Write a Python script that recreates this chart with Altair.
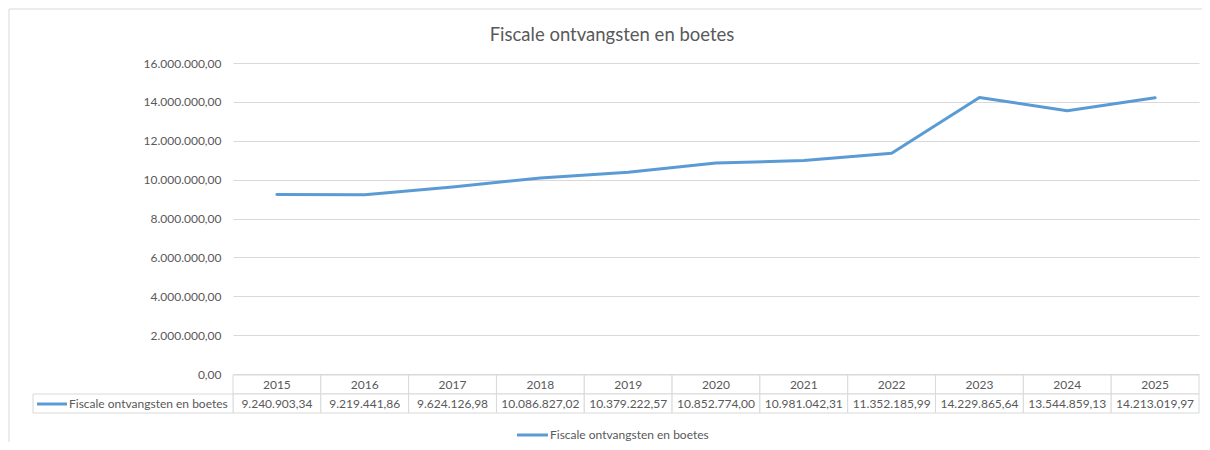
import altair as alt
import pandas as pd

years = ["2015", "2016", "2017", "2018", "2019", "2020", "2021", "2022", "2023", "2024", "2025"]
values = [9240903.34, 9219441.86, 9624126.98, 10086827.02, 10379222.57, 10852774.00,
          10981042.31, 11352185.99, 14229865.64, 13544859.13, 14213019.97]
series_name = "Fiscale ontvangsten en boetes"
chart_title = "Fiscale ontvangsten en boetes"
y_ticks = [0, 2000000, 4000000, 6000000, 8000000, 10000000, 12000000, 14000000, 16000000]

df = pd.DataFrame({"year": years, "value": values, "series": [series_name] * len(years)})
one = pd.DataFrame({"series": [series_name], "title": [chart_title]})

LINE = "#5b9bd5"
GRID = "#d9d9d9"
TXT = "#595959"
FONT = "Lato"
FS = 12

xscale = alt.Scale(type="band", paddingInner=0, paddingOuter=0)
xband = alt.X("year:O", scale=xscale, axis=None, sort=years)
xmid = alt.X("year:O", scale=xscale, axis=None, sort=years, bandPosition=0.5)

base = alt.Chart(df)

frame_left = alt.Chart(one).mark_rule(color=GRID, strokeWidth=1).encode(
    x=alt.value(-224), y=alt.value(-54), y2=alt.value(420)
)
frame_top = alt.Chart(one).mark_rule(color=GRID, strokeWidth=1).encode(
    x=alt.value(-224), x2=alt.value(1000), y=alt.value(-54)
)

line = base.mark_line(color=LINE, strokeWidth=3, strokeJoin="round", strokeCap="round").encode(
    x=xmid,
    y=alt.Y("value:Q", scale=alt.Scale(domain=[0, 16000000], nice=False),
            axis=alt.Axis(values=y_ticks, format=",.2f", title=None, domain=False, ticks=False,
                          labelPadding=12, labelColor=TXT, labelFontSize=FS, labelFont=FONT,
                          grid=True, gridColor=GRID, gridWidth=1)),
)

head_rect = base.mark_rect(fill="white", stroke=GRID, strokeWidth=1).encode(
    x=xband, y=alt.value(312), y2=alt.value(331)
)
head_text = base.mark_text(font=FONT, fontSize=FS, color=TXT, baseline="middle").encode(
    x=xmid, y=alt.value(322), text="year:N"
)
data_rect = base.mark_rect(fill="white", stroke=GRID, strokeWidth=1).encode(
    x=xband, y=alt.value(331), y2=alt.value(350)
)
data_text = base.mark_text(font=FONT, fontSize=FS, color=TXT, baseline="middle").encode(
    x=xmid, y=alt.value(341), text=alt.Text("value:Q", format=",.2f")
)

label_rect = alt.Chart(one).mark_rect(fill="white", stroke=GRID, strokeWidth=1).encode(
    x=alt.value(-200), x2=alt.value(0), y=alt.value(331), y2=alt.value(350)
)
label_line = alt.Chart(one).mark_rule(color=LINE, strokeWidth=3).encode(
    x=alt.value(-196), x2=alt.value(-166), y=alt.value(341)
)
label_text = alt.Chart(one).mark_text(font=FONT, fontSize=FS, color=TXT, align="left", baseline="middle").encode(
    x=alt.value(-164), y=alt.value(341), text="series:N"
)

leg_line = alt.Chart(one).mark_rule(color=LINE, strokeWidth=3).encode(
    x=alt.value(284), x2=alt.value(315), y=alt.value(372)
)
leg_text = alt.Chart(one).mark_text(font=FONT, fontSize=FS, color=TXT, align="left", baseline="middle").encode(
    x=alt.value(317), y=alt.value(372), text="series:N"
)

title = alt.Chart(one).mark_text(font=FONT, fontSize=18.5, color=TXT, align="center", baseline="middle").encode(
    x=alt.value(379), y=alt.value(-28), text="title:N"
)

chart = alt.layer(
    frame_left, frame_top, line, head_rect, head_text, data_rect, data_text,
    label_rect, label_line, label_text, leg_line, leg_text, title
).properties(
    width=966, height=311,
    autosize=alt.AutoSizeParams(type="none"),
    padding={"left": 225, "top": 55, "right": 3, "bottom": 68},
    background="white",
).configure(
    font=FONT,
    locale=alt.Locale(number=alt.NumberLocale(decimal=",", thousands=".", grouping=[3], currency=["€", ""])),
).configure_view(stroke=None)

chart.save("out.html", embed_options={"renderer": "svg", "actions": False})
